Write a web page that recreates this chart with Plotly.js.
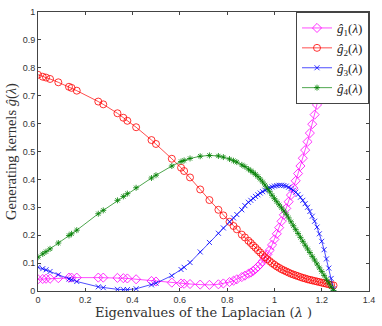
<!DOCTYPE html>
<html>
<head>
<meta charset="utf-8">
<script src="https://cdn.plot.ly/plotly-3.0.1.min.js"></script>
<style>
  html, body { margin: 0; padding: 0; background: #fff; }
  #plot { width: 382px; height: 326px; }
</style>
</head>
<body>
<div id="plot"></div>
<script>
// eigenvalues of the Laplacian (sample points)
var lambda = [0, 0.02, 0.034, 0.051, 0.086, 0.131, 0.142, 0.164, 0.255, 0.276,
  0.336, 0.361, 0.378, 0.415, 0.48, 0.499, 0.566, 0.605, 0.618, 0.643,
  0.686, 0.725, 0.763, 0.784, 0.81, 0.827, 0.841, 0.862, 0.875, 0.89,
  0.9, 0.91, 0.92, 0.93, 0.94, 0.95, 0.96, 0.97, 0.98, 0.99,
  1.0, 1.01, 1.02, 1.03, 1.04, 1.05, 1.06, 1.07, 1.08, 1.09,
  1.1, 1.11, 1.12, 1.13, 1.14, 1.15, 1.16, 1.17, 1.18, 1.19,
  1.2, 1.21, 1.22, 1.23, 1.24, 1.25];

var g1 = [0.042, 0.043, 0.044, 0.044, 0.046, 0.048, 0.048, 0.048, 0.048, 0.048,
  0.047, 0.046, 0.045, 0.042, 0.036, 0.034, 0.030, 0.027, 0.026, 0.025,
  0.023, 0.022, 0.024, 0.027, 0.032, 0.037, 0.042, 0.050, 0.055, 0.062,
  0.066, 0.072, 0.079, 0.087, 0.096, 0.106, 0.118, 0.131, 0.146, 0.165,
  0.185, 0.205, 0.227, 0.250, 0.273, 0.296, 0.320, 0.344, 0.369, 0.395,
  0.421, 0.448, 0.476, 0.505, 0.535, 0.566, 0.598, 0.632, 0.667, 0.704,
  0.743, 0.785, 0.830, 0.880, 0.936, 1.0];

var g2 = [0.775, 0.768, 0.765, 0.760, 0.748, 0.732, 0.728, 0.718, 0.679, 0.669,
  0.637, 0.621, 0.610, 0.587, 0.541, 0.527, 0.474, 0.442, 0.430, 0.407,
  0.364, 0.326, 0.291, 0.271, 0.248, 0.233, 0.221, 0.202, 0.192, 0.180,
  0.172, 0.163, 0.155, 0.146, 0.138, 0.129, 0.121, 0.114, 0.107, 0.100,
  0.094, 0.088, 0.083, 0.078, 0.074, 0.070, 0.066, 0.062, 0.059, 0.056,
  0.053, 0.050, 0.047, 0.045, 0.042, 0.040, 0.038, 0.036, 0.034, 0.032,
  0.030, 0.028, 0.026, 0.024, 0.022, 0.020];

var g3 = [0.085, 0.080, 0.076, 0.070, 0.058, 0.043, 0.040, 0.034, 0.015, 0.012,
  0.006, 0.005, 0.005, 0.008, 0.022, 0.028, 0.055, 0.077, 0.085, 0.102,
  0.140, 0.174, 0.207, 0.226, 0.248, 0.262, 0.274, 0.291, 0.306, 0.318,
  0.325, 0.332, 0.339, 0.345, 0.351, 0.356, 0.361, 0.366, 0.370, 0.373,
  0.376, 0.378, 0.379, 0.379, 0.378, 0.376, 0.372, 0.367, 0.361, 0.354,
  0.346, 0.336, 0.325, 0.313, 0.300, 0.285, 0.268, 0.250, 0.229, 0.205,
  0.178, 0.148, 0.115, 0.082, 0.045, 0.008];

var g4 = [0.121, 0.133, 0.141, 0.151, 0.172, 0.199, 0.205, 0.218, 0.277, 0.289,
  0.325, 0.339, 0.349, 0.370, 0.405, 0.415, 0.448, 0.464, 0.468, 0.475,
  0.483, 0.486, 0.484, 0.480, 0.473, 0.467, 0.462, 0.452, 0.446, 0.437,
  0.431, 0.425, 0.418, 0.410, 0.401, 0.391, 0.380, 0.368, 0.356, 0.343,
  0.331, 0.320, 0.309, 0.298, 0.287, 0.275, 0.262, 0.248, 0.234, 0.220,
  0.206, 0.192, 0.178, 0.164, 0.151, 0.138, 0.124, 0.111, 0.097, 0.083,
  0.070, 0.056, 0.042, 0.029, 0.015, 0.002];

var names = ['<i>ĝ</i><sub>1</sub>(<i>λ</i>)', '<i>ĝ</i><sub>2</sub>(<i>λ</i>)',
  '<i>ĝ</i><sub>3</sub>(<i>λ</i>)', '<i>ĝ</i><sub>4</sub>(<i>λ</i>)'];
var colors = ['#ff00ff', '#ff0000', '#0000ff', '#008000'];
var symbols = ['diamond-open', 'circle-open', 'x-thin-open', 'asterisk-open'];
var sizes = [7, 7, 5, 5];
var series = [g1, g2, g3, g4];

var data = series.map(function (ys, i) {
  return {
    x: lambda,
    y: ys,
    name: names[i],
    type: 'scatter',
    mode: 'lines+markers',
    line: {color: colors[i], width: 0.7},
    marker: {symbol: symbols[i], size: sizes[i], color: colors[i], line: {width: 0.8, color: colors[i]}}
  };
});

var axisStyle = {
  showline: true, mirror: 'ticks', linecolor: '#444', linewidth: 1,
  ticks: 'inside', ticklen: 3, tickcolor: '#444', showgrid: false, zeroline: false,
  tickfont: {family: 'Liberation Sans, Arial, sans-serif', size: 9, color: '#333'}
};

var layout = {
  width: 382, height: 326,
  margin: {l: 38, r: 13, t: 12, b: 35},
  paper_bgcolor: '#fff', plot_bgcolor: '#fff',
  showlegend: true,
  legend: {
    x: 1, xanchor: 'right', y: 1, yanchor: 'top',
    bgcolor: '#fff', bordercolor: '#444', borderwidth: 1,
    font: {family: 'Liberation Serif, serif', size: 13, color: '#222'}
  },
  xaxis: Object.assign({}, axisStyle, {
    range: [0, 1.4], dtick: 0.2,
    title: {text: 'Eigenvalues of the Laplacian (<i>λ</i> )', standoff: 3,
      font: {family: 'DejaVu Serif, serif', size: 13, color: '#333'}}
  }),
  yaxis: Object.assign({}, axisStyle, {
    range: [0, 1], dtick: 0.1,
    title: {text: 'Generating kernels <i>ĝ</i>(<i>λ</i>)', standoff: 2,
      font: {family: 'Liberation Serif, serif', size: 14.5, color: '#333'}}
  })
};

Plotly.newPlot('plot', data, layout, {displayModeBar: false, staticPlot: true});
</script>
</body>
</html>
